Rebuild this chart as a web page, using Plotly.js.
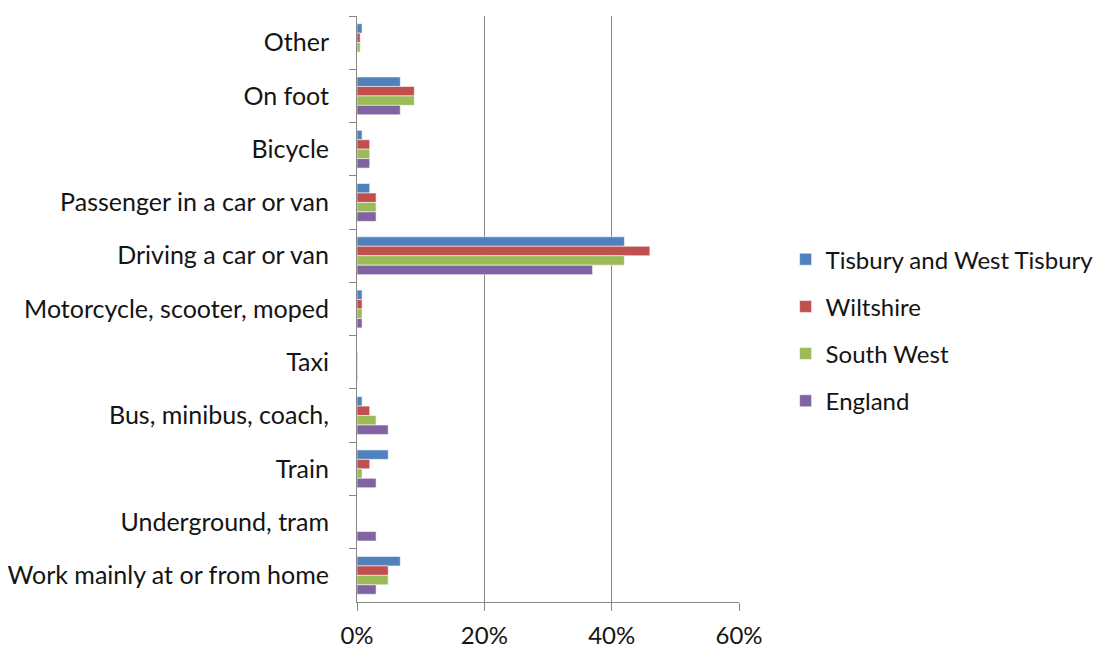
<!DOCTYPE html>
<html>
<head>
<meta charset="utf-8">
<script src="https://cdn.plot.ly/plotly-3.0.1.min.js"></script>
<style>
  html, body { margin: 0; padding: 0; background: #ffffff; }
  #chart { width: 1103px; height: 648px; }
</style>
</head>
<body>
<div id="chart"></div>
<script>
// Method of travel to work, share of usual residents (top to bottom)
const categories = [
  'Other',
  'On foot',
  'Bicycle',
  'Passenger in a car or van',
  'Driving a car or van',
  'Motorcycle, scooter, moped',
  'Taxi',
  'Bus, minibus, coach,',
  'Train',
  'Underground, tram',
  'Work mainly at or from home'
];

const seriesNames = ['Tisbury and West Tisbury', 'Wiltshire', 'South West', 'England'];
const seriesColors = ['#4F81BD', '#C0504D', '#9BBB59', '#8064A2'];

const tisbury   = [0.008, 0.068, 0.008, 0.020, 0.420, 0.008, 0.000, 0.008, 0.049, 0.000, 0.068];
const wiltshire = [0.005, 0.090, 0.020, 0.030, 0.460, 0.008, 0.001, 0.020, 0.020, 0.000, 0.049];
const southWest = [0.005, 0.090, 0.020, 0.030, 0.420, 0.008, 0.001, 0.030, 0.008, 0.000, 0.049];
const england   = [0.000, 0.068, 0.020, 0.030, 0.370, 0.008, 0.001, 0.049, 0.030, 0.030, 0.030];

const xTickVals = [0, 0.2, 0.4, 0.6];
const xTickText = ['0%', '20%', '40%', '60%'];

const seriesValues = [tisbury, wiltshire, southWest, england];

const traces = seriesValues.map((vals, i) => ({
  type: 'bar',
  orientation: 'h',
  name: seriesNames[i],
  y: categories,
  x: vals,
  legendgroup: 'g' + i,
  marker: {
    color: seriesColors[i],
    line: { color: 'rgba(255,255,255,0.55)', width: 1 }
  },
  hoverinfo: 'skip'
}));

const textFont = { family: 'Lato, "Open Sans", sans-serif', size: 25, color: '#141414' };
const xTickFont = { family: 'Lato, "Open Sans", sans-serif', size: 24, color: '#141414' };
const legendFont = { family: 'Lato, "Open Sans", sans-serif', size: 24, color: '#141414' };

const layout = {
  width: 1103,
  height: 648,
  paper_bgcolor: '#ffffff',
  plot_bgcolor: '#ffffff',
  margin: { l: 357, r: 364, t: 16, b: 46, pad: 0, autoexpand: false },
  barmode: 'group',
  bargap: 0.29,
  bargroupgap: 0,
  font: textFont,
  showlegend: true,
  legend: {
    x: 1.122,
    y: 0.464,
    xanchor: 'left',
    yanchor: 'middle',
    traceorder: 'grouped',
    tracegroupgap: 13,
    font: legendFont,
    bgcolor: 'rgba(0,0,0,0)',
    itemclick: false
  },
  xaxis: {
    range: [0, 0.6],
    tickvals: xTickVals,
    ticktext: xTickText,
    showgrid: true,
    gridcolor: '#868686',
    gridwidth: 1,
    zeroline: false,
    showline: true,
    linecolor: '#868686',
    linewidth: 1,
    ticks: 'outside',
    ticklen: 8,
    tickcolor: '#868686',
    ticklabelstandoff: 4,
    tickfont: xTickFont,
    fixedrange: true
  },
  yaxis: {
    type: 'category',
    autorange: 'reversed',
    showline: true,
    linecolor: '#868686',
    linewidth: 1,
    ticks: 'outside',
    tickson: 'boundaries',
    ticklen: 7,
    tickcolor: '#868686',
    ticklabelstandoff: 22,
    showgrid: false,
    zeroline: false,
    tickfont: textFont,
    fixedrange: true
  }
};

Plotly.newPlot('chart', traces, layout, { displayModeBar: false, staticPlot: true });
</script>
</body>
</html>
